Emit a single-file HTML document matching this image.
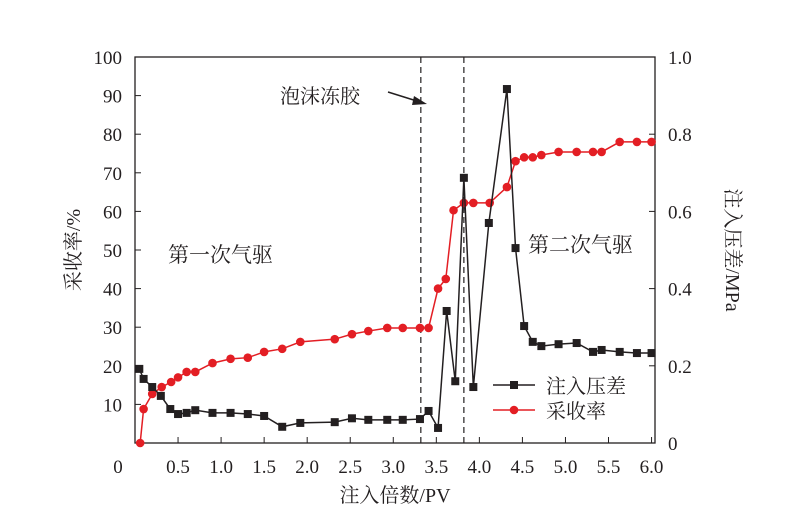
<!DOCTYPE html>
<html><head><meta charset="utf-8"><style>
body{margin:0;background:#fff;width:799px;height:524px;overflow:hidden}
text{font-family:"Liberation Serif","Noto Serif CJK SC",serif;fill:#231f20}
</style></head><body>
<svg id="c" width="799" height="524">
</svg>
<script>
const xs=[0.05,0.1,0.2,0.3,0.41,0.5,0.6,0.7,0.9,1.11,1.31,1.5,1.71,1.92,2.32,2.52,2.71,2.93,3.11,3.31,3.41,3.52,3.62,3.72,3.82,3.93,4.11,4.32,4.42,4.52,4.62,4.72,4.92,5.13,5.32,5.42,5.63,5.83,6.0];
const pressure=[0.192,0.166,0.145,0.122,0.088,0.075,0.078,0.085,0.078,0.078,0.075,0.07,0.042,0.052,0.054,0.064,0.06,0.06,0.06,0.062,0.083,0.039,0.342,0.16,0.687,0.145,0.57,0.917,0.505,0.303,0.262,0.251,0.256,0.259,0.236,0.241,0.236,0.233,0.233];
const rxs=[0.06,0.1,0.2,0.31,0.42,0.5,0.6,0.7,0.9,1.11,1.31,1.5,1.71,1.92,2.32,2.52,2.71,2.93,3.11,3.31,3.41,3.52,3.61,3.7,3.82,3.93,4.12,4.32,4.42,4.52,4.62,4.72,4.92,5.13,5.32,5.42,5.63,5.83,6.0];
const recovery=[0,8.8,12.7,14.5,15.8,17,18.4,18.4,20.7,21.8,22.1,23.6,24.4,26.2,26.9,28.2,29,29.8,29.8,29.8,29.8,40,42.5,60.3,62.2,62.2,62.2,66.3,73,74,74,74.6,75.4,75.4,75.4,75.4,78,78,78];
const xTicks=[0.5,1.0,1.5,2.0,2.5,3.0,3.5,4.0,4.5,5.0,5.5,6.0];
const yTicks=[10,20,30,40,50,60,70,80,90,100];
const y2Ticks=[0,0.2,0.4,0.6,0.8,1.0];
const dashes=[3.32,3.82];
const L=135,R=655,T=57,B=443;
const X=v=>L+v*(R-L)/6.04, Y=v=>B-v*(B-T)/100, Y2=v=>B-v*(B-T)/1.0;
const s=document.getElementById('c'),NS='http://www.w3.org/2000/svg';
function el(t,a,txt){const e=document.createElementNS(NS,t);for(const k in a)e.setAttribute(k,a[k]);if(txt!==undefined)e.textContent=txt;s.appendChild(e);return e;}
let e;
e=el('rect',{x:L,y:T,width:R-L,height:B-T,fill:'none',stroke:'#231f20','stroke-width':1.3});

xTicks.forEach(v=>{e=el('line',{x1:X(v),x2:X(v),y1:B,y2:B-6,stroke:'#231f20'});

e=el('text',{x:X(v),y:473,'text-anchor':'middle','font-size':19},v.toFixed(1));
});
e=el('text',{x:118,y:473,'text-anchor':'middle','font-size':19},'0');

yTicks.forEach(v=>{e=el('line',{x1:L,x2:L+6,y1:Y(v),y2:Y(v),stroke:'#231f20'});

e=el('text',{x:122,y:Y(v)+7,'text-anchor':'end','font-size':19},String(v));
});
y2Ticks.forEach(v=>{e=el('line',{x1:R,x2:R-6,y1:Y2(v),y2:Y2(v),stroke:'#231f20'});

e=el('text',{x:668,y:Y2(v)+7,'font-size':19},v===0?'0':v.toFixed(1));
});
dashes.forEach(v=>{e=el('line',{x1:X(v),x2:X(v),y1:T,y2:B,stroke:'#231f20','stroke-dasharray':'6,4','stroke-width':1.2});
});
e=el('polyline',{points:rxs.map((v,i)=>X(v)+','+Y(recovery[i])).join(' '),fill:'none',stroke:'#e31e24','stroke-width':1.5});

rxs.forEach((v,i)=>{e=el('circle',{cx:X(v),cy:Y(recovery[i]),r:4.3,fill:'#e31e24'});
});
e=el('polyline',{points:xs.map((v,i)=>X(v)+','+Y2(pressure[i])).join(' '),fill:'none',stroke:'#231f20','stroke-width':1.5});

xs.forEach((v,i)=>{e=el('rect',{x:X(v)-4,y:Y2(pressure[i])-4,width:8,height:8,fill:'#231f20'});
});
e=el('line',{x1:493,x2:535,y1:385,y2:385,stroke:'#231f20','stroke-width':1.5});

e=el('rect',{x:510,y:381,width:8,height:8,fill:'#231f20'});

e=el('text',{x:546,y:393,'font-size':20},'注入压差');

e=el('line',{x1:493,x2:535,y1:410,y2:410,stroke:'#e31e24','stroke-width':1.5});

e=el('circle',{cx:514,cy:410,r:4.3,fill:'#e31e24'});

e=el('text',{x:546,y:418,'font-size':20},'采收率');

e=el('text',{x:168,y:262,'font-size':21},'第一次气驱');

e=el('text',{x:528,y:252,'font-size':21},'第二次气驱');

e=el('text',{x:280,y:103,'font-size':20},'泡沫冻胶');

e=el('line',{x1:388,x2:420,y1:92,y2:102,stroke:'#231f20','stroke-width':1.5});

e=el('polygon',{points:'427,104 414,96 412,105',fill:'#231f20'});

e=el('text',{x:395,y:502,'text-anchor':'middle','font-size':20},'注入倍数/PV');

e=el('text',{x:0,y:0,'text-anchor':'middle','font-size':20,transform:'translate(80,250) rotate(-90)'},'采收率/%');

e=el('text',{x:0,y:0,'text-anchor':'middle','font-size':20,transform:'translate(726,250) rotate(90)'},'注入压差/MPa');

</script>
</body></html>
